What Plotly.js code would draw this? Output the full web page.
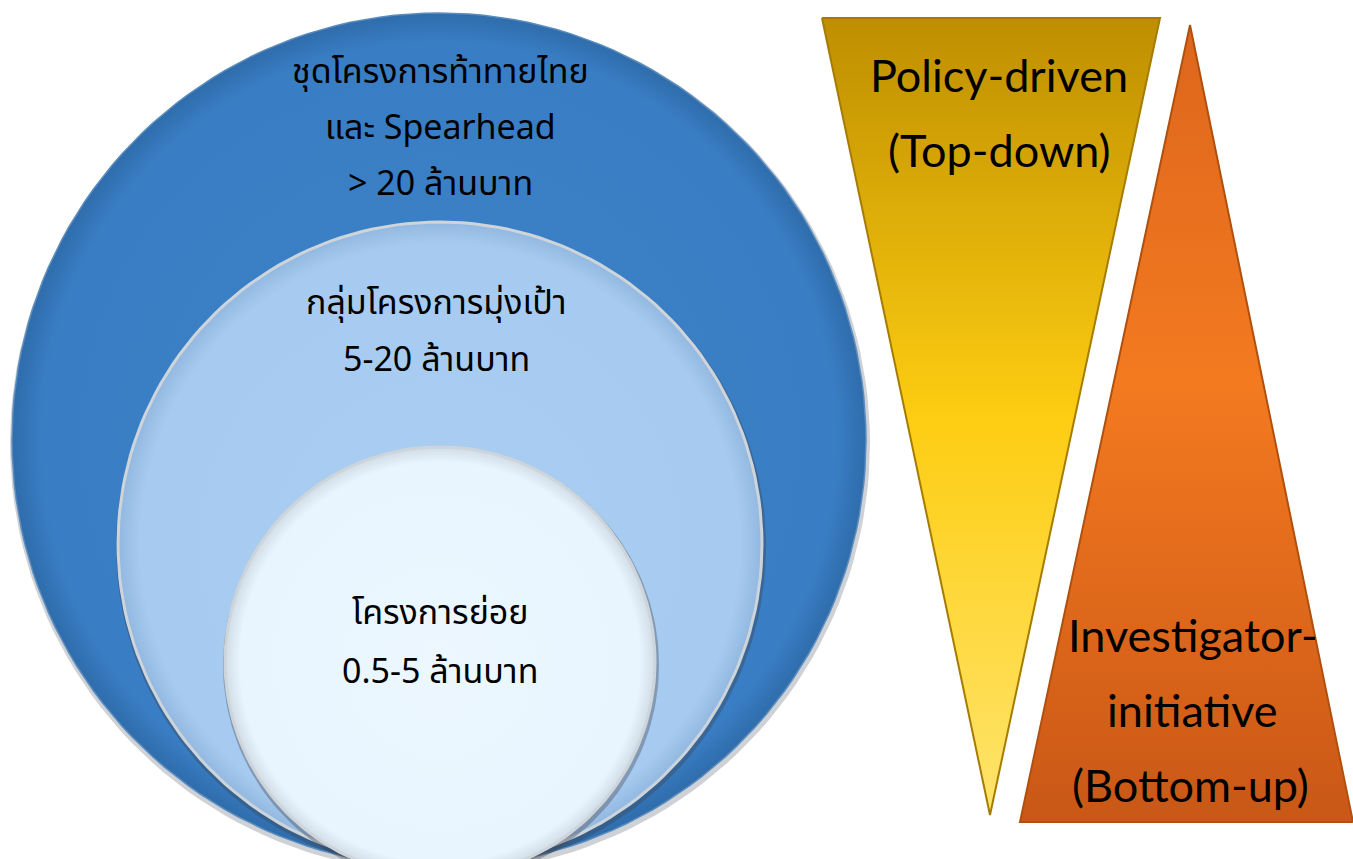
<!DOCTYPE html>
<html><head><meta charset="utf-8">
<script src="https://cdn.plot.ly/plotly-3.0.1.min.js"></script>
<style>html,body{margin:0;padding:0;background:#fff}#c{width:1353px;height:859px}</style>
</head><body><div id="c"></div>
<script>
// Nested circles (pixel space, y downward)
const circleNames = ["outer", "middle", "inner"];
const circleCx = [439, 440, 440];
const circleCy = [440, 544, 662];
const circleR = [427, 322, 215];
const circleColors = [
  [[0,'#3C82C7'],[0.93,'#397EC4'],[1,'#2F6CAB']],
  [[0,'#AACEF2'],[0.93,'#A7CBF0'],[1,'#93B8E0']],
  [[0,'#ECF7FF'],[0.93,'#E8F5FE'],[1,'#D0DCE6']]
];
// Labels: one entry per line
const circleLabelLines = [
  "ชุดโครงการท้าทายไทย", "และ Spearhead", "> 20 ล้านบาท",
  "กลุ่มโครงการมุ่งเป้า", "5-20 ล้านบาท",
  "โครงการย่อย", "0.5-5 ล้านบาท"
];
const circleLabelX = [440, 440, 440, 436, 436, 440, 440];
const circleLabelY = [72, 128, 184, 303, 360, 613, 672];

// Triangles
const triNames = ["Policy-driven (Top-down)", "Investigator-initiative (Bottom-up)"];
const triX = [[822, 1160, 990, 822], [1190, 1353, 1020, 1190]];
const triY = [[18, 18, 815, 18], [25, 822, 822, 25]];
const triColors = [
  [[0,'#BE8E00'],[0.5,'#FDCD12'],[1,'#FFE46C']],
  [[0,'#DC661C'],[0.45,'#F47A20'],[1,'#C95716']]
];
const triLine = ['#A67C00', '#B0500F'];
const triLabelLines = ["Policy-driven", "(Top-down)", "Investigator-", "initiative", "(Bottom-up)"];
const triLabelX = [999, 999, 1193, 1192, 1190];
const triLabelY = [75, 150, 635, 710, 785];

const traces = [];
for (let i = 0; i < circleR.length; i++) {
  const xs = [], ys = [], sx = [], sy = [];
  for (let a = 0; a <= 360; a += 2) {
    const t = a * Math.PI / 180;
    xs.push(circleCx[i] + circleR[i] * Math.cos(t));
    ys.push(circleCy[i] + circleR[i] * Math.sin(t));
    sx.push(circleCx[i] + 1 + (circleR[i] + 3) * Math.cos(t));
    sy.push(circleCy[i] + 3 + (circleR[i] + 3) * Math.sin(t));
  }
  traces.push({x: sx, y: sy, type: 'scatter', mode: 'lines', fill: 'toself',
    fillcolor: i === 0 ? 'rgba(60,70,90,0.25)' : 'rgba(60,60,70,0.35)', line: {width: 0}, hoverinfo: 'skip', showlegend: false});
  traces.push({x: xs, y: ys, type: 'scatter', mode: 'lines', fill: 'toself', name: circleNames[i],
    fillgradient: {type: 'radial', colorscale: circleColors[i]},
    line: {color: i === 0 ? '#5A8CBE' : '#CDD4DA', width: i === 0 ? 1.5 : 3}, hoverinfo: 'skip', showlegend: false});
}
for (let i = 0; i < triX.length; i++) {
  traces.push({x: triX[i], y: triY[i], type: 'scatter', mode: 'lines', fill: 'toself', name: triNames[i],
    fillgradient: {type: 'vertical', colorscale: triColors[i], start: Math.min(...triY[i]), stop: Math.max(...triY[i])},
    line: {color: triLine[i], width: 2}, hoverinfo: 'skip', showlegend: false});
}

const annotations = [];
for (let i = 0; i < circleLabelLines.length; i++) {
  annotations.push({x: circleLabelX[i], y: circleLabelY[i], xref: 'x', yref: 'y', text: circleLabelLines[i], showarrow: false,
    xanchor: 'center', yanchor: 'middle',
    font: {family: '"Noto Sans Thai", Tahoma, "Noto Sans", sans-serif', size: 34, color: '#000'}});
}
for (let i = 0; i < triLabelLines.length; i++) {
  annotations.push({x: triLabelX[i], y: triLabelY[i], xref: 'x', yref: 'y', text: triLabelLines[i], showarrow: false,
    xanchor: 'center', yanchor: 'middle',
    font: {family: 'Lato, "Noto Sans", sans-serif', size: 45, color: '#000'}});
}

const layout = {
  width: 1353, height: 859, margin: {l: 0, r: 0, t: 0, b: 0},
  paper_bgcolor: '#fff', plot_bgcolor: '#fff',
  xaxis: {range: [0, 1353], visible: false, fixedrange: true},
  yaxis: {range: [859, 0], visible: false, fixedrange: true},
  annotations: annotations, showlegend: false
};
Plotly.newPlot('c', traces, layout, {displayModeBar: false, staticPlot: true});
</script></body></html>
